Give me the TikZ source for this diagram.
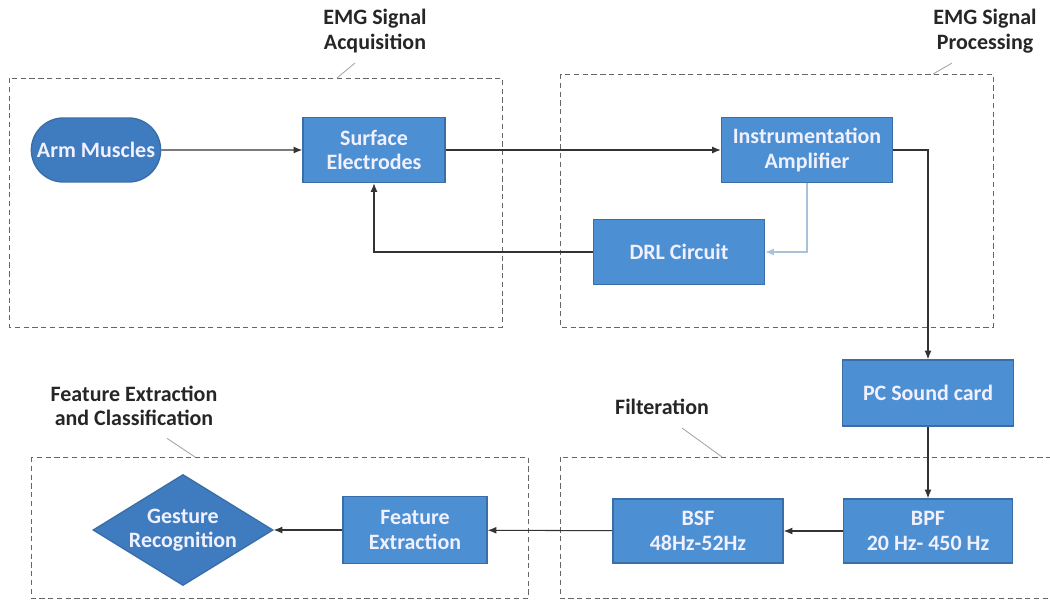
\documentclass[tikz,border=0pt]{standalone}
\usepackage{fontspec}
\setmainfont{Carlito}
\usepackage{tikz}
\usetikzlibrary{arrows.meta,shapes.geometric,shapes.misc}

\definecolor{blkfill}{HTML}{4D8FD3}
\definecolor{blkline}{HTML}{3A6EA8}
\definecolor{darkfill}{HTML}{3F7CBF}
\definecolor{wireclr}{HTML}{333333}
\definecolor{fbclr}{HTML}{A9C2D9}

\tikzset{
    blk/.style={rectangle, draw=blkline, fill=blkfill, line width=0.8pt,
        text=white!94!blue, font=\fontsize{12.5}{14}\selectfont\bfseries, align=center},
    grp/.style={draw=gray!80!black, dashed, dash pattern=on 3pt off 2pt, line width=0.5pt},
    grplabel/.style={font=\fontsize{12.5}{14}\selectfont\bfseries, align=center, text=black!85},
    leader/.style={draw=gray!70, line width=0.5pt},
    wire/.style={draw=wireclr, line width=0.6pt, -{Latex[length=5pt,width=4pt]}}
}

\begin{document}
\begin{tikzpicture}[x=0.02cm, y=-0.02cm]
        \useasboundingbox (0,0) rectangle (1050,602);

        % dashed groups
        \draw[grp] (9,78) rectangle (502,327);
        \draw[grp] (560,74) rectangle (993,327);
        \draw[grp] (31,457) rectangle (528,598);
        \draw[grp] (560,457) rectangle (1060,598);

        % group labels
        \node[grplabel] (acqlbl) at (375,31) {EMG Signal\\Acquisition};
        \node[grplabel] (proclbl) at (985,31) {EMG Signal\\Processing};
        \node[grplabel] (fclbl) at (134,406) {Feature Extraction\\and Classification};
        \node[grplabel] (filtlbl) at (662,407) {Filteration};
        \coordinate (acqtip) at (337,78);
        \coordinate (proctip) at (933,74);
        \coordinate (fctip) at (195,457);
        \coordinate (filttip) at (722,457);
        \draw[leader] (acqlbl.south) ++(-20,4) -- (acqtip);
        \draw[leader] (proclbl.south) ++(-33,4) -- (proctip);
        \draw[leader] (fclbl.south) ++(33,6) -- (fctip);
        \draw[leader] (filtlbl.south) ++(20,7) -- (filttip);

        % blocks
        \node[blk, rounded rectangle, fill=darkfill, minimum width=2.82cm, minimum height=1.28cm] (arm) at (96,150) {Arm Muscles};
        \node[blk, minimum width=2.84cm, minimum height=1.3cm] (surf) at (374,150) {Surface\\Electrodes};
        \node[blk, minimum width=3.42cm, minimum height=1.3cm] (amp) at (807,150) {Instrumentation\\Amplifier};
        \node[blk, minimum width=3.42cm, minimum height=1.3cm] (drl) at (679,252) {DRL Circuit};
        \node[blk, minimum width=3.42cm, minimum height=1.32cm] (pc) at (928,393) {PC Sound card};
        \node[blk, minimum width=3.38cm, minimum height=1.28cm] (bpf) at (928,531) {BPF\\20 Hz- 450 Hz};
        \node[blk, minimum width=3.4cm, minimum height=1.28cm] (bsf) at (698,531) {BSF\\48Hz-52Hz};
        \node[blk, minimum width=2.88cm, minimum height=1.34cm] (fe) at (415,530) {Feature\\Extraction};
        \node[blk, diamond, fill=darkfill, inner sep=0pt, aspect=1.62, minimum width=3.6cm, minimum height=2.22cm] (gr) at (183,530) {Gesture\\Recognition};

        % connectors
        \draw[wire] (arm) -- (surf);
        \draw[wire] (surf) -- (amp);
        \draw[wire] (amp.east) -| (pc.north);
        \draw[wire, draw=fbclr] (amp.south) |- (drl.east);
        \draw[wire] (drl.west) -| (surf.south);
        \draw[wire] (pc) -- (bpf);
        \draw[wire] (bpf) -- (bsf);
        \draw[wire] (bsf) -- (fe);
        \draw[wire] (fe) -- (gr);
\end{tikzpicture}
\end{document}
